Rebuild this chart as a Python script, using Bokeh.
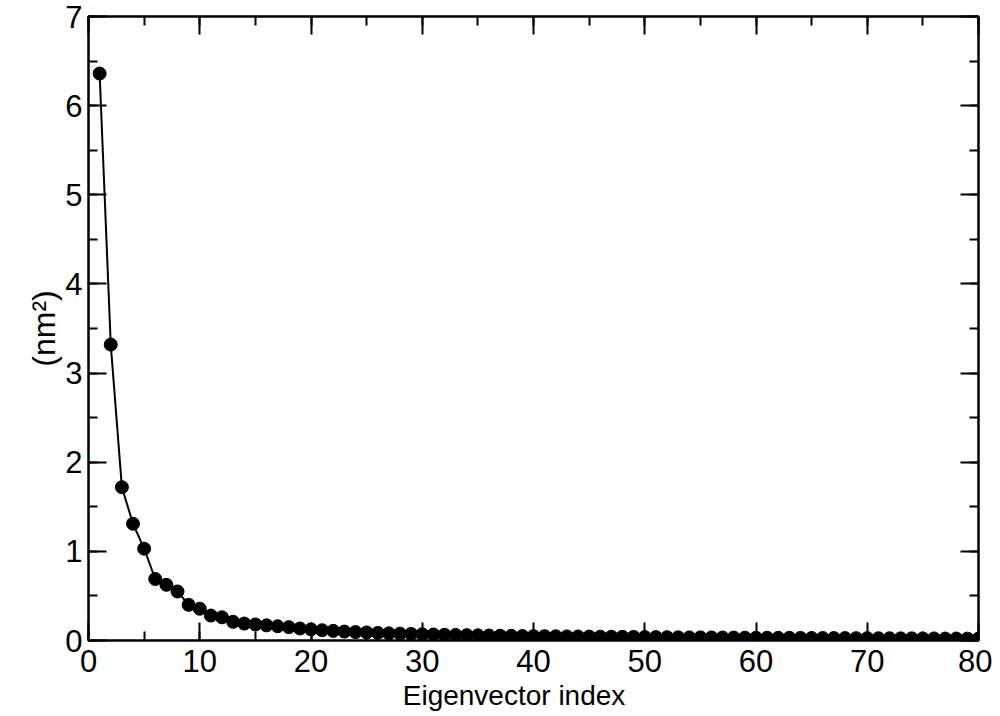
from bokeh.plotting import figure
from bokeh.models import LinearAxis, Range1d, SingleIntervalTicker
from bokeh.embed import file_html
from bokeh.resources import INLINE

index = list(range(1, 81))
eigenvalues = [
    6.36, 3.32, 1.72, 1.31, 1.03, 0.69, 0.625, 0.55, 0.40, 0.356,
    0.28, 0.26, 0.21, 0.19, 0.18, 0.17, 0.16, 0.15, 0.135, 0.125,
    0.115, 0.108, 0.100, 0.095, 0.090, 0.085, 0.080, 0.077, 0.074, 0.070,
    0.067, 0.064, 0.062, 0.060, 0.058, 0.056, 0.054, 0.052, 0.050, 0.049,
    0.048, 0.047, 0.046, 0.045, 0.044, 0.043, 0.042, 0.041, 0.040, 0.039,
    0.038, 0.037, 0.036, 0.035, 0.035, 0.034, 0.033, 0.033, 0.032, 0.031,
    0.031, 0.030, 0.030, 0.029, 0.028, 0.028, 0.027, 0.027, 0.026, 0.026,
    0.025, 0.025, 0.024, 0.024, 0.023, 0.023, 0.022, 0.022, 0.021, 0.021,
]
x_label = "Eigenvector index"
y_label = "(nm\u00b2)"

FONT = "Liberation Sans"

p = figure(width=992, height=716, output_backend="svg", toolbar_location=None,
           x_range=Range1d(0, 80), y_range=Range1d(0, 7),
           x_axis_location=None, y_axis_location=None,
           min_border_left=88, min_border_right=14, min_border_top=16, min_border_bottom=76)
p.grid.visible = False
p.outline_line_color = "black"
p.outline_line_width = 2
p.background_fill_color = "white"
p.border_fill_color = "white"

def style_axis(ax, labels=True):
    ax.axis_line_width = 2
    ax.axis_line_color = "black"
    ax.major_tick_in = 18
    ax.major_tick_out = 0
    ax.minor_tick_in = 9
    ax.minor_tick_out = 0
    ax.major_tick_line_width = 2
    ax.minor_tick_line_width = 2
    ax.major_tick_line_color = "black"
    ax.minor_tick_line_color = "black"
    ax.major_label_text_font = FONT
    ax.major_label_text_font_size = "31px"
    ax.major_label_text_color = "black"
    ax.major_label_standoff = 6
    ax.axis_label_text_font = FONT
    ax.axis_label_text_font_size = "28px"
    ax.axis_label_text_font_style = "normal"
    ax.axis_label_text_color = "black"
    if not labels:
        ax.major_label_text_font_size = "0px"
        ax.major_label_text_alpha = 0

# trailing no-break spaces shift the centred label left, as in the reference
xb = LinearAxis(ticker=SingleIntervalTicker(interval=10, num_minor_ticks=2),
                axis_label=x_label + "\u00a0" * 5)
style_axis(xb)
xb.major_label_standoff = 9
xb.axis_label_standoff = 5
xt = LinearAxis(ticker=SingleIntervalTicker(interval=10, num_minor_ticks=2))
style_axis(xt, labels=False)
yl = LinearAxis(ticker=SingleIntervalTicker(interval=1, num_minor_ticks=2), axis_label=y_label)
style_axis(yl)
yl.axis_label_text_font_size = "32px"
yl.axis_label_standoff = 0
yr = LinearAxis(ticker=SingleIntervalTicker(interval=1, num_minor_ticks=2))
style_axis(yr, labels=False)

p.add_layout(xb, "below")
p.add_layout(xt, "above")
p.add_layout(yl, "left")
p.add_layout(yr, "right")

p.line(index, eigenvalues, line_color="black", line_width=2)
p.scatter(index, eigenvalues, size=13, fill_color="black", line_color="black")

open("out.html", "w").write(file_html(p, INLINE))
